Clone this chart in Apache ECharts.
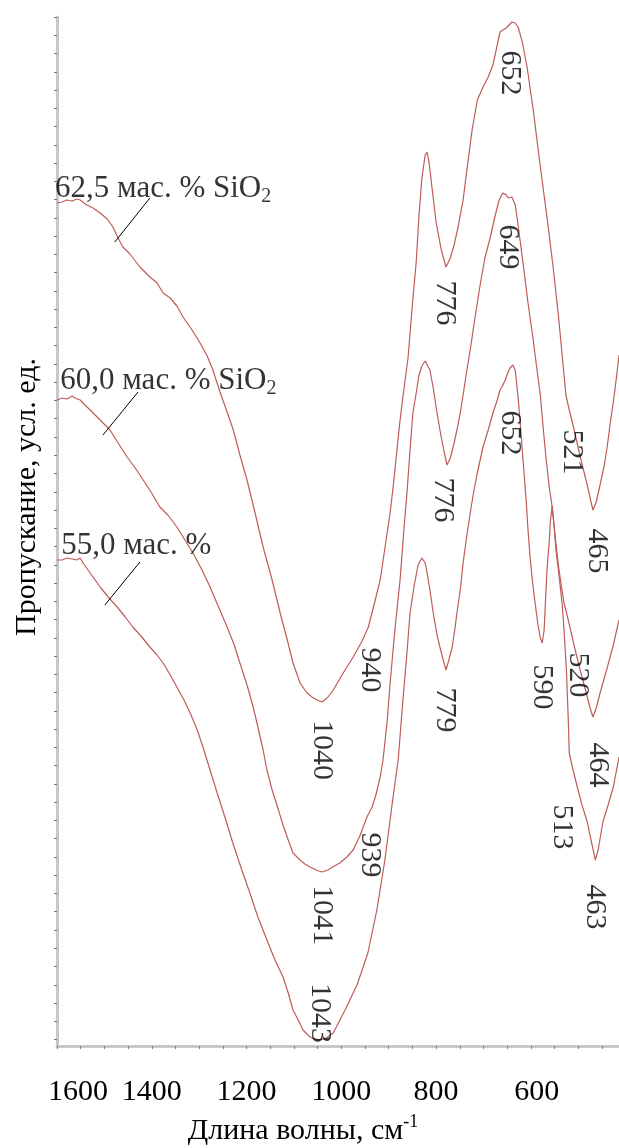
<!DOCTYPE html>
<html><head><meta charset="utf-8">
<script src="https://cdn.jsdelivr.net/npm/echarts@6/dist/echarts.min.js"></script>
<style>html,body{margin:0;padding:0;background:#fff}#c{width:619px;height:1148px}</style>
</head><body><div id="c"></div>
<script>
// ---- data: wavenumber (cm-1) and transmittance (arb. units) ----
const wave1 = [1600,1589,1579,1568,1558,1551,1543,1537,1524,1509,1494,1482,1471,1461,1446,1425,1404,1389,1376,1361,1347,1334,1315,1298,1283,1271,1256,1241,1228,1214,1199,1182,1165,1146,1129,1114,1102,1087,1074,1062,1051,1041,1028,1017,996,975,956,943,931,918,908,897,889,882,876,870,859,851,842,836,830,823,819,815,808,800,789,779,770,762,754,743,735,724,713,701,690,680,671,665,659,652,646,640,633,627,618,608,595,580,566,553,542,534,526,519,511,500,490,481,475,469,462,454,445,439,433,426,420,414];
const trans1 = [84.3,84.4,84.6,84.5,84.7,84.6,84.3,84.1,83.8,83.3,82.7,81.9,80.8,79.9,79.2,77.9,76.9,76.3,75.3,74.8,74.0,72.9,71.6,70.3,69.0,67.6,65.4,63.4,61.6,59.1,56.6,53.3,49.9,46.6,43.3,40.6,38.3,36.3,35.4,34.9,34.6,34.4,34.9,35.6,37.3,38.9,40.5,41.9,44.1,46.6,49.8,53.3,56.6,59.9,62.6,64.9,68.9,73.6,78.4,83.1,86.8,89.1,89.4,88.4,85.6,82.4,79.6,77.9,78.8,80.1,81.8,84.6,87.6,91.6,94.6,95.9,96.9,98.1,100.1,101.4,101.6,101.8,102.1,102.4,102.3,101.9,100.4,97.9,93.6,87.9,82.9,77.9,73.1,69.1,65.1,63.6,62.1,59.8,57.8,56.1,54.8,53.6,54.4,56.1,58.1,59.9,62.1,64.4,66.6,69.1];

const wave2 = [1600,1589,1579,1568,1562,1551,1541,1530,1509,1488,1471,1452,1435,1418,1399,1383,1366,1347,1330,1313,1294,1277,1260,1241,1226,1214,1199,1186,1176,1165,1157,1146,1134,1123,1112,1102,1087,1077,1066,1053,1041,1028,1015,1003,988,975,960,946,935,927,918,912,903,897,887,876,868,861,855,849,842,836,830,823,819,813,806,798,790,783,777,770,762,756,749,743,735,728,718,707,697,686,675,667,659,652,648,644,640,633,627,616,606,595,587,580,574,568,561,555,549,542,536,530,521,509,496,483,475,469,462,454,439,426,414];
const trans2 = [64.6,64.8,64.7,65.0,64.8,64.6,64.1,63.6,62.6,61.6,60.3,58.9,57.8,56.6,55.2,53.9,53.1,51.9,50.6,49.3,47.6,45.9,44.0,41.9,40.1,38.3,36.1,33.9,31.9,29.6,27.6,25.6,23.8,22.1,20.6,19.3,18.6,18.2,17.9,17.6,17.4,17.6,18.0,18.3,18.9,19.6,21.1,22.9,23.9,25.1,26.9,28.6,32.6,36.3,41.6,46.6,51.6,55.6,59.6,63.3,65.3,67.1,68.0,68.5,68.6,67.6,65.8,63.3,61.1,59.4,58.1,58.8,60.3,61.6,63.3,65.1,67.6,69.6,72.8,76.1,78.8,80.8,83.1,84.6,85.3,85.1,84.8,85.0,84.9,84.1,82.1,78.1,74.3,70.6,67.6,65.1,61.8,58.8,55.8,53.9,51.1,48.1,46.1,44.3,42.6,40.1,37.6,35.3,33.8,32.9,33.8,35.3,37.8,40.1,42.6];

const wave3 = [1600,1589,1579,1568,1558,1551,1545,1530,1509,1492,1473,1456,1440,1421,1404,1389,1376,1361,1347,1332,1319,1304,1292,1277,1262,1245,1229,1210,1193,1176,1157,1140,1123,1112,1102,1091,1081,1066,1055,1045,1032,1017,1003,992,982,967,956,944,925,908,893,880,870,861,855,846,838,830,823,819,813,806,798,792,785,779,773,766,760,756,749,743,735,728,720,713,707,701,690,680,671,665,661,654,648,644,638,633,627,623,616,610,606,602,597,591,585,580,576,572,570,568,566,561,559,555,551,547,540,534,530,525,521,519,512,502,492,481,473,464,458,448,437,426,414];
const trans3 = [48.6,48.6,48.8,48.7,48.6,48.8,48.3,47.3,45.9,44.9,43.9,42.9,41.9,40.9,39.9,39.1,38.3,37.1,35.9,34.6,33.3,31.6,29.9,27.6,25.3,22.8,20.3,17.6,15.3,12.9,10.6,8.6,6.9,5.3,3.6,2.6,1.6,0.9,0.7,0.6,0.8,1.3,2.6,3.6,4.6,6.1,7.6,9.3,13.6,18.6,24.1,28.6,34.6,39.6,43.3,46.1,48.1,48.8,48.3,47.3,45.6,43.3,41.1,39.9,38.6,37.6,38.6,39.9,41.8,43.3,45.6,48.3,51.1,53.3,55.6,57.3,58.6,59.9,61.6,63.3,64.6,65.6,65.9,66.6,67.4,67.8,68.1,67.6,64.9,62.6,58.3,54.6,51.6,49.1,46.6,44.3,42.1,40.8,40.3,41.6,43.6,45.6,47.6,50.6,52.4,54.0,52.0,49.6,46.8,44.2,41.6,37.6,32.6,29.3,27.8,25.9,24.1,22.4,20.6,18.6,19.6,22.4,24.1,25.9,28.9];

// x tick labels
const xTickValues = [1600, 1400, 1200, 1000, 800, 600];

// peak annotations
const peakTexts  = ['652','649','776','652','521','776','465','940','779','590','520','1040','464','939','1041','513','463','1043'];
const peakWaves  = [644, 648, 781, 644, 513, 785, 460, 939, 781, 576, 500, 1041, 458, 939, 1041, 534, 464, 1045];
const peakValues = [97.3, 79.9, 74.3, 61.3, 59.4, 54.6, 49.5, 37.6, 33.6, 35.9, 37.1, 29.6, 28.1, 19.1, 13.1, 21.9, 13.9, 3.3];

// sample (curve) names
const sampleNames = ['62,5 мас. % SiO', '60,0 мас. % SiO', '55,0 мас. %'];
const sampleSubs  = ['2', '2', ''];
const sampleWaves = [1600, 1589, 1587];
const sampleValues = [85.7, 66.5, 50.0];
// leader lines from the names to the curves
const leaderFrom = [[1404, 84.8], [1429, 65.4], [1425, 48.4]];
const leaderTo   = [[1478, 80.4], [1503, 61.1], [1499, 44.1]];

const xTitle = 'Длина волны, см';
const xTitleSup = '-1';
const yTitle = 'Пропускание, усл. ед.';

// ---- styling / layout ----
const FONT = "'Liberation Serif','Times New Roman',serif";
const CURVE = '#bd5c58';
const X_MIN = 414, X_MAX = 1600, Y_MAX = 102.9, Y_MINOR = 1.826;

function zip(w, t) { const n = Math.min(w.length, t.length); const o = []; for (let i = 0; i < n; i++) o.push([w[i], t[i]]); return o; }

const yTicks = []; for (let v = Y_MAX; v >= 0; v -= Y_MINOR) yTicks.push(+v.toFixed(3));
const xTicks = []; for (let v = 1600; v >= 450; v -= 50) xTicks.push(v);

function curve(name, w, t) {
  return { type: 'line', name, data: zip(w, t), showSymbol: false, symbol: 'none', smooth: false,
    lineStyle: { color: CURVE, width: 1.2 }, z: 3, animation: false, clip: true };
}

const chart = echarts.init(document.getElementById('c'), null, { renderer: 'canvas' });
const option = {
  animation: false,
  backgroundColor: '#fff',
  grid: { left: 57, right: 0, top: 17, bottom: 102 },
  xAxis: {
    type: 'value', min: X_MIN, max: X_MAX, inverse: true,
    axisLine: { show: true, onZero: false, lineStyle: { color: '#c8c8c8', width: 3 } },
    axisTick: { show: true, customValues: xTicks, length: 3, lineStyle: { color: '#7a7a7a', width: 1 } },
    axisLabel: {
      show: true, customValues: xTickValues, margin: 30,
      formatter: v => (v === 1600 ? '{f|' + v + '}' : (v === 600 ? '{g|' + v + '}' : '{n|' + v + '}')),
      rich: {
        n: { fontSize: 30, fontFamily: FONT, color: '#000', lineHeight: 32 },
        f: { fontSize: 30, fontFamily: FONT, color: '#000', lineHeight: 32, padding: [0, 0, 0, 42] },
        g: { fontSize: 30, fontFamily: FONT, color: '#000', lineHeight: 32, padding: [0, 0, 0, 12] }
      }
    },
    splitLine: { show: false }
  },
  yAxis: {
    type: 'value', min: 0, max: Y_MAX,
    axisLine: { show: true, onZero: false, lineStyle: { color: '#c8c8c8', width: 3 } },
    axisTick: { show: true, customValues: yTicks, length: 3, lineStyle: { color: '#7a7a7a', width: 1 } },
    axisLabel: { show: false },
    splitLine: { show: false }
  },
  series: [
    curve('62,5', wave1, trans1),
    curve('60,0', wave2, trans2),
    curve('55,0', wave3, trans3),
    {
      type: 'scatter', name: 'peaks', symbolSize: 0, z: 5, silent: true,
      data: peakTexts.map((s, i) => ({ value: [peakWaves[i], peakValues[i]], name: s })),
      label: { show: true, position: 'inside', rotate: -90, formatter: p => p.name,
        fontSize: 30, fontFamily: FONT, color: '#000' }
    },
    {
      type: 'scatter', name: 'samples', symbolSize: 0, z: 5, silent: true,
      data: sampleNames.map((s, i) => ({ value: [sampleWaves[i], sampleValues[i]], name: s, sub: sampleSubs[i] })),
      label: { show: true, position: 'right', distance: -2,
        formatter: p => '{m|' + p.name + '}' + (p.data.sub ? '{s|' + p.data.sub + '}' : ''),
        rich: {
          m: { fontSize: 31, fontFamily: FONT, color: '#000', lineHeight: 36 },
          s: { fontSize: 20, fontFamily: FONT, color: '#000', lineHeight: 20, verticalAlign: 'bottom' }
        }
      },
      markLine: {
        silent: true, symbol: ['none', 'none'], animation: false,
        label: { show: false },
        lineStyle: { color: '#000', width: 1, type: 'solid' },
        data: leaderFrom.map((a, i) => [{ coord: a }, { coord: leaderTo[i] }])
      }
    }
  ],
  graphic: [
    { type: 'text', x: 27, y: 497, rotation: Math.PI / 2, silent: true,
      style: { text: yTitle, font: '30px ' + FONT, fill: '#000', align: 'center', verticalAlign: 'middle',
        textAlign: 'center', textVerticalAlign: 'middle' } },
    { type: 'text', x: 303, y: 1131, silent: true,
      style: { text: '{a|' + xTitle + '}{b|' + xTitleSup + '}', fill: '#000', align: 'center', verticalAlign: 'middle',
        textAlign: 'center', textVerticalAlign: 'middle',
        rich: { a: { fontSize: 30, fontFamily: FONT, lineHeight: 36 },
                b: { fontSize: 18, fontFamily: FONT, lineHeight: 18, verticalAlign: 'top' } } } }
  ]
};
chart.setOption(option);
</script>
</body></html>
